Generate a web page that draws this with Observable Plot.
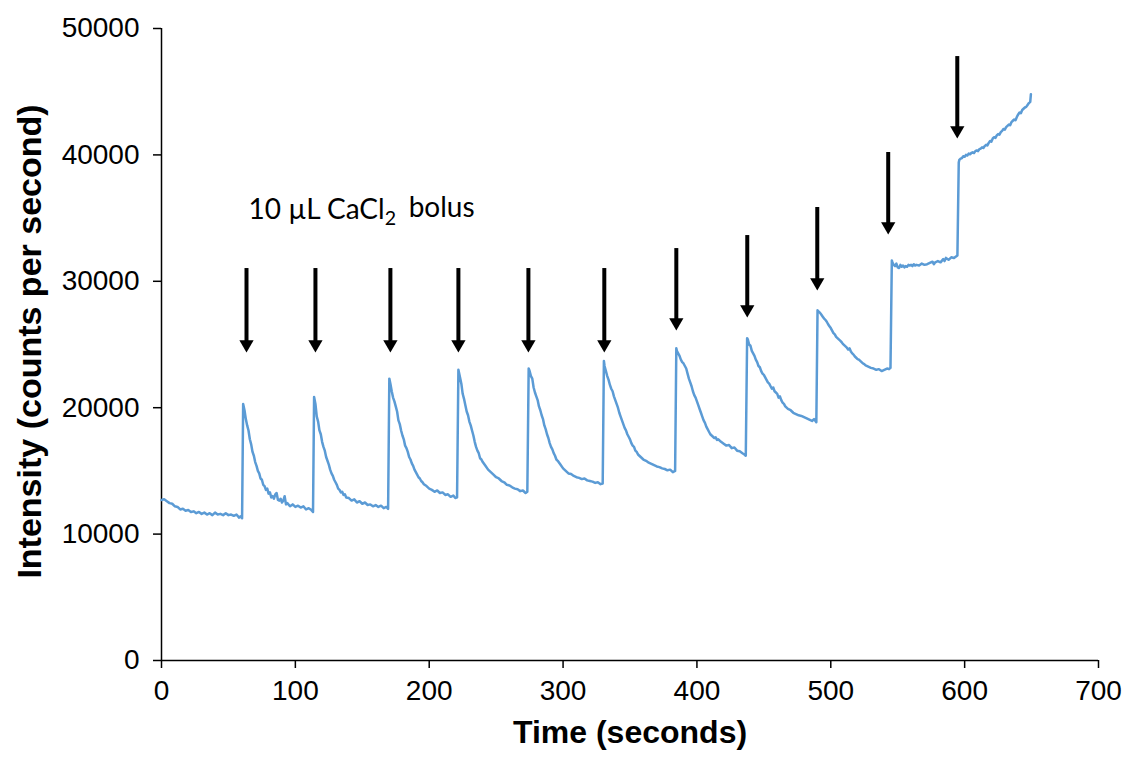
<!DOCTYPE html>
<html>
<head>
<meta charset="utf-8">
<script src="https://cdn.jsdelivr.net/npm/d3@7"></script>
<script src="https://cdn.jsdelivr.net/npm/@observablehq/plot@0.6"></script>
<style>
  html, body { margin: 0; padding: 0; background: #fff; }
  #chart { width: 1126px; height: 760px; }
</style>
</head>
<body>
<div id="chart"></div>
<script>
// Trace: [time (s), intensity (counts per second)]
const baseline = [
  [0,12700],[2,12750],[4,12600],[6,12450],[8,12400],[10,12200],[12,12150],[14,11950],[16,12000],[18,11850],
  [20,11900],[22,11750],[24,11800],[26,11650],[28,11750],[30,11600],[32,11700],[34,11550],[36,11650],[38,11500],
  [40,11700],[42,11550],[44,11600],[46,11500],[48,11650],[50,11500],[52,11550],[54,11450],[56,11550],[58,11300],
  [59,11400],[60.2,11250]
];
const bolus1 = [
  [61,20300],[62,19800],[63,19100],[64,18600],[65,18200],[66,17500],[67,17100],[68,16500],[69,16200],[70,15700],
  [71,15400],[72,15000],[73,14800],[74,14400],[75,14300],[76,13900],[77,13800],[78,13500],[79,13600],[80,13200],
  [81,13300],[82,12900],[83,13000],[84,12800],[85,13150],[86,13250],[87,12700],[88,12650],[89,12800],[90,12500],
  [91,12650],[92,13000],[93,12350],[94,12450],[96,12200],[98,12350],[100,12150],[102,12250],[104,12100],[106,12200],
  [108,11950],[110,12050],[112,11900],[113.2,11750]
];
const bolus2 = [
  [114,20850],[115,20300],[116,19300],[117,18900],[118,18200],[119,17900],[120,17300],[121,16900],[122,16600],[123,16100],
  [124,15800],[125,15500],[126,15100],[127,14800],[128,14600],[129,14300],[130,14100],[131,13900],[132,13600],[133,13500],
  [134,13300],[135,13350],[136,13100],[137,13150],[138,12900],[140,12850],[142,12650],[144,12750],[146,12500],[148,12600],
  [150,12400],[152,12500],[154,12300],[156,12350],[158,12200],[160,12300],[162,12150],[164,12250],[166,12050],[168,12150],
  [169.3,12000]
];
const bolus3 = [
  [170.2,22300],[171,21900],[172,21300],[173,20800],[174,20500],[175,20100],[176,19700],[177,19000],[178,18700],[179,18200],
  [180,17800],[181,17500],[182,17000],[183,16800],[184,16500],[185,16100],[186,15900],[187,15600],[188,15400],[189,15100],
  [190,14900],[191,14700],[192,14500],[193,14400],[194,14200],[195,14100],[196,13950],[198,13800],[200,13600],[202,13500],
  [204,13350],[206,13450],[208,13250],[210,13300],[212,13100],[214,13150],[216,12950],[218,13050],[219.5,12850],[220.8,12900]
];
const bolus4 = [
  [221.8,23000],[223,22400],[224,21900],[225,21100],[226,20700],[227,20200],[228,19700],[229,19400],[230,18900],[231,18600],
  [232,18200],[233,17800],[234,17300],[235,16900],[236,16600],[237,16400],[238,16000],[239,15900],[240,15700],[242,15400],
  [244,15100],[246,14900],[248,14700],[250,14500],[252,14400],[254,14200],[256,14100],[258,13900],[260,13850],[262,13700],
  [264,13600],[266,13550],[268,13400],[270,13450],[272,13250],[273.3,13350]
];
const bolus5 = [
  [274.3,23100],[275,22900],[276,22500],[277,22300],[278,21600],[279,21200],[280,20900],[281,20600],[282,20100],[283,19800],
  [284,19400],[285,19100],[286,18600],[287,18300],[288,17900],[289,17600],[290,17200],[291,16900],[292,16700],[293,16400],
  [294,16200],[295,15900],[296,15800],[298,15500],[300,15200],[302,15000],[304,14800],[306,14750],[308,14600],[310,14500],
  [312,14450],[314,14350],[316,14400],[318,14250],[320,14200],[322,14150],[324,14050],[326,14100],[328,13950],[329.6,14000]
];
const bolus6 = [
  [330.5,23700],[331,23300],[332,22900],[333,22500],[334,22200],[335,21800],[336,21500],[337,21300],[338,20900],[339,20600],
  [340,20300],[341,20000],[342,19600],[343,19300],[344,19000],[345,18700],[346,18400],[347,18200],[348,17900],[349,17700],
  [350,17500],[351,17200],[352,17000],[353,16900],[354,16600],[355,16500],[356,16300],[357,16200],[358,16100],[360,15900],
  [362,15800],[364,15650],[366,15550],[368,15450],[370,15350],[372,15300],[374,15200],[376,15150],[378,15050],[380,15100],
  [382,14900],[383.7,15000]
];
const bolus7 = [
  [384.6,24700],[385,24500],[386,24300],[387,24100],[388,23800],[389,23600],[390,23500],[391,23300],[392,23100],[393,22700],
  [394,22300],[395,22000],[396,21700],[397,21300],[398,21000],[399,20800],[400,20500],[401,20200],[402,19900],[403,19600],
  [404,19300],[405,19000],[406,18800],[407,18500],[408,18300],[409,18100],[410,17900],[411,17800],[412,17700],[413,17600],
  [414,17650],[415,17450],[416,17500],[418,17300],[420,17150],[422,17000],[424,17050],[426,16800],[428,16850],[430,16600],
  [432,16550],[434,16400],[435.5,16300],[436.5,16200]
];
const bolus8 = [
  [437.5,25500],[438,25400],[439,25000],[440,24900],[441,24500],[442,24300],[443,24100],[444,23800],[445,23600],[446,23300],
  [447,23200],[448,22900],[449,22700],[450,22600],[451,22400],[452,22200],[453,22000],[454,21900],[455,21700],[456,21500],
  [457,21600],[458,21300],[459,21200],[460,21100],[461,20800],[462,20900],[463,20600],[464,20400],[465,20300],[466,20100],
  [468,19900],[470,19800],[472,19600],[474,19500],[476,19400],[478,19350],[480,19250],[482,19150],[484,19050],[486,18950],
  [487.5,19100],[489.2,18850]
];
const bolus9 = [
  [490.1,27700],[491,27600],[492,27500],[493,27350],[494,27200],[495,27050],[496,26950],[497,26800],[498,26600],[499,26450],
  [500,26300],[501,26100],[502,25900],[503,25800],[504,25600],[505,25500],[506,25400],[507,25300],[508,25200],[509,25050],
  [510,24950],[511,24850],[512,24750],[513,24600],[514,24700],[515,24450],[516,24300],[517,24200],[518,24050],[519,23950],
  [520,23850],[521,23800],[522,23700],[523,23600],[524,23500],[525,23450],[526,23350],[528,23250],[530,23150],[532,23100],
  [534,23000],[536,23050],[538,22900],[540,23000],[542,23100],[543.5,23050],[544.6,23150]
];
const bolus10 = [
  [545.6,31650],[546,31500],[547,31300],[548,31200],[549,31400],[550,31100],[551,31050],[552,31300],[553,31150],[554,31250],
  [555,31100],[556,31200],[557,31150],[558,31300],[559,31250],[560,31300],[561,31200],[562,31350],[563,31250],[564,31300],
  [566,31250],[568,31400],[570,31300],[572,31350],[574,31450],[576,31550],[577,31350],[578,31500],[580,31600],[582,31500],
  [584,31750],[585,31600],[586,31850],[588,31700],[590,31900],[592,31850],[594.6,32050]
];
const bolus11 = [
  [595.6,39400],[596,39600],[597,39700],[598,39750],[599,39900],[600,39850],[601,40000],[602,39950],[603,40100],[604,40050],
  [605,40150],[606,40200],[607,40150],[608,40300],[609,40350],[610,40300],[611,40450],[612,40500],[613,40600],[614,40550],
  [615,40700],[616,40800],[617,40750],[618,40950],[619,41100],[620,41050],[621,41300],[622,41400],[623,41350],[624,41550],
  [625,41650],[626,41600],[627,41800],[628,41900],[629,42050],[630,42000],[631,42200],[632,42300],[633,42400],[634,42350],
  [635,42600],[636,42700],[637,42800],[638,42750],[639,43000],[640,43200],[641,43350],[642,43300],[643,43550],[644,43650],
  [645,43750],[646,43800],[647,43950],[648,44100],[649,44200],[649.5,44800]
];

// Bolus arrows: time, top of shaft, tip of head
const arrowTime = [63.5, 115.0, 171.0, 221.8, 274.1, 330.8, 384.6, 437.6, 489.9, 542.9, 594.5];
const arrowTop  = [31010, 31010, 31010, 31010, 31010, 31010, 32590, 33620, 35840, 40190, 47780];
const arrowTip  = [24370, 24370, 24370, 24370, 24370, 24370, 26110, 27130, 29270, 33700, 41300];

const annotationTime = 65;
const annotationValue = 35600;

const xTicks = [0, 100, 200, 300, 400, 500, 600, 700];
const yTicks = [0, 10000, 20000, 30000, 40000, 50000];

const trace = [baseline, bolus1, bolus2, bolus3, bolus4, bolus5, bolus6, bolus7, bolus8, bolus9, bolus10, bolus11]
  .flat().map(([t, v]) => ({t, v}));
const arrows = arrowTime.map((t, i) => ({t, top: arrowTop[i], tip: arrowTip[i]}));

const chart = Plot.plot({
  width: 1126,
  height: 760,
  marginTop: 28,
  marginRight: 28,
  marginBottom: 100,
  marginLeft: 161,
  style: {fontFamily: "'Liberation Sans', Arial, sans-serif", background: "#fff", color: "#000", overflow: "visible"},
  x: {domain: [0, 700]},
  y: {domain: [0, 50000]},
  marks: [
    Plot.axisX({ticks: xTicks, tickFormat: "d", tickSize: 8, tickPadding: 12, fontSize: 28, label: null, strokeWidth: 1.5}),
    Plot.axisY({ticks: yTicks, tickFormat: "d", tickSize: 8, tickPadding: 14, fontSize: 28, label: null, strokeWidth: 1.5}),
    Plot.ruleX([0], {stroke: "#000", strokeWidth: 1.5}),
    Plot.ruleY([0], {stroke: "#000", strokeWidth: 1.5}),
    Plot.line(trace, {x: "t", y: "v", stroke: "#5B9BD5", strokeWidth: 2.5}),
    Plot.ruleX(arrows, {x: "t", y1: "top", y2: "tip", stroke: "#000", strokeWidth: 4, insetBottom: 10}),
    Plot.dot(arrows, {x: "t", y: "tip", symbol: "triangle", rotate: 180, r: 5.3, fill: "#000", stroke: "none", dy: -8.2}),
    Plot.text(["10 µL CaCl2 bolus"], {
      x: annotationTime, y: annotationValue, textAnchor: "start", fontSize: 28,
      fontFamily: "Lato, 'Open Sans', sans-serif", fill: "#000",
      render(index, scales, values, dims, ctx, next) {
        const g = next(index, scales, values, dims, ctx);
        d3.select(g).selectAll("text").each(function() {
          const el = d3.select(this);
          el.text(null);
          el.append("tspan").text("10 µL CaCl");
          el.append("tspan").attr("dy", "0.3em").attr("font-size", "0.7em").text("2");
          el.append("tspan").attr("dy", "-0.3em").attr("dx", "0.45em").text("bolus");
        });
        return g;
      }
    }),
    Plot.text(["Time (seconds)"], {frameAnchor: "bottom", dy: 82, fontSize: 32, fontWeight: "bold", fill: "#000"}),
    Plot.text(["Intensity (counts per second)"], {frameAnchor: "left", textAnchor: "middle", dx: -131, dy: -3, rotate: -90, fontSize: 34, fontWeight: "bold", fill: "#000"})
  ]
});
document.getElementById("chart").appendChild(chart);
</script>
</body>
</html>
